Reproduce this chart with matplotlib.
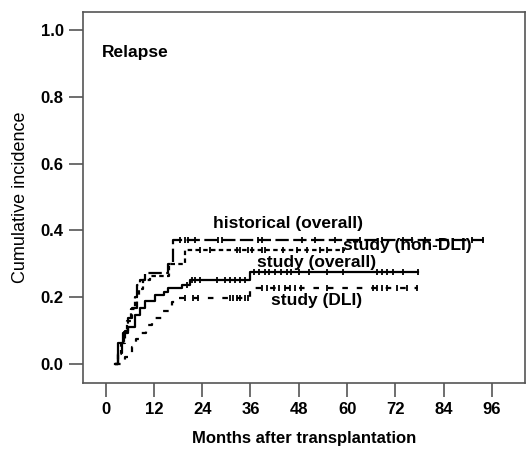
import numpy as np
import matplotlib.pyplot as plt

plt.rcParams['font.family'] = ['Liberation Sans', 'DejaVu Sans']

# step curves: event times (months) and cumulative incidence
hist_t = [2.4, 3.2, 4.0, 4.8, 5.7, 6.5, 7.7, 8.6, 9.8, 15.6, 16.8]
hist_v = [0.0, 0.032, 0.062, 0.10, 0.137, 0.167, 0.236, 0.25, 0.272, 0.30, 0.371]
hist_end = 94
hist_cens = [18.5, 19.7, 20.6, 22.2, 28.0, 28.9, 37.9, 38.9, 48.8, 52.0, 57.0,
             63.2, 68.7, 73.9, 76.1, 79.4, 91.0, 93.8]

nondli_t = [2.4, 3.0, 3.8, 4.6, 5.4, 6.2, 7.2, 8.2, 9.4, 11.0, 15.8, 19.8]
nondli_v = [0.0, 0.03, 0.06, 0.095, 0.13, 0.165, 0.20, 0.225, 0.25, 0.262, 0.30, 0.341]
nondli_end = 59.5
nondli_cens = [23.5, 26, 32.6, 33.4, 35.4, 36.4, 38.8, 39.6, 44, 47.5, 50,
               53.3, 55, 59]

overall_t = [2.4, 3.1, 4.4, 5.7, 7.3, 8.6, 9.8, 12.3, 14.4, 15.5, 19.0, 21.0, 35.9]
overall_v = [0.0, 0.062, 0.092, 0.112, 0.147, 0.167, 0.19, 0.207, 0.217, 0.227,
             0.237, 0.251, 0.275]
overall_end = 77.6
overall_cens = [20.2, 21.5, 22.2, 23.5, 27.7, 29.7, 30.9, 32.2, 33.4, 34.6,
                37, 38, 39.5, 40.5, 42, 43.5, 45, 46, 48, 50.5, 55, 59,
                67.4, 68.7, 69.9, 71.4, 73.9, 77.6]

dli_t = [2.4, 4.8, 6.5, 7.6, 8.6, 10.0, 11.5, 14.0, 16.4, 17.3, 35.9]
dli_v = [0.0, 0.02, 0.05, 0.075, 0.093, 0.118, 0.138, 0.16, 0.187, 0.197, 0.227]
dli_end = 77.6
dli_cens = [19.7, 21.7, 23, 30.9, 31.7, 32.6, 33.4, 34.6, 35.4, 38.9, 40.1,
            41.8, 43, 44.5, 45.8, 47, 48.5, 55, 66.5, 67.4, 68.7, 69.9, 72.4,
            74.9, 77.4]

labels = ['historical (overall)', 'study (non-DLI)', 'study (overall)', 'study (DLI)']
label_pos = [(45.3, 0.422), (74.9, 0.356), (52.3, 0.303), (52.5, 0.19)]

xticks = [0, 12, 24, 36, 48, 60, 72, 84, 96]
yticks = [0.0, 0.2, 0.4, 0.6, 0.8, 1.0]

fig = plt.figure(figsize=(5.26, 4.53), dpi=100)
ax = fig.add_axes([83/526, 1-383/453, 442/526, 371/453])


def draw(t, v, end, cens, ls):
    tt = list(t) + [end]
    vv = list(v) + [v[-1]]
    ax.step(tt, vv, where='post', color='black', lw=1.6, linestyle=ls)
    idx = np.searchsorted(t, cens, side='right') - 1
    cv = np.array(v)[idx]
    ax.plot(cens, cv, linestyle='none', marker='|', color='black', ms=5, mew=1.3)


draw(hist_t, hist_v, hist_end, hist_cens, (0, (6, 2)))
draw(nondli_t, nondli_v, nondli_end, nondli_cens, (0, (2, 1.5)))
draw(overall_t, overall_v, overall_end, overall_cens, '-')
draw(dli_t, dli_v, dli_end, dli_cens, (0, (2.5, 4)))

for lab, (x, y) in zip(labels, label_pos):
    ax.text(x, y, lab, ha='center', va='center', fontsize=12.5, fontweight='bold')

ax.text(-0.8, 0.934, 'Relapse', ha='left', va='center', fontsize=12.5, fontweight='bold')

ax.set_xlim(-5.6, 104.2)
ax.set_ylim(-0.057, 1.054)
ax.set_xticks(xticks)
ax.set_yticks(yticks)
ax.set_yticklabels(['%.1f' % y for y in yticks])
ax.tick_params(direction='out', length=10, width=1.2, color='#555555',
               labelsize=12, pad=4)
for lab in ax.get_xticklabels() + ax.get_yticklabels():
    lab.set_fontweight('bold')
for s in ax.spines.values():
    s.set_color('#555555')
    s.set_linewidth(1.2)

ax.set_xlabel('Months after transplantation', fontsize=12, fontweight='bold', labelpad=10)
ax.set_ylabel('Cumulative incidence', fontsize=13, labelpad=8)

plt.savefig('out.png', dpi=100)
